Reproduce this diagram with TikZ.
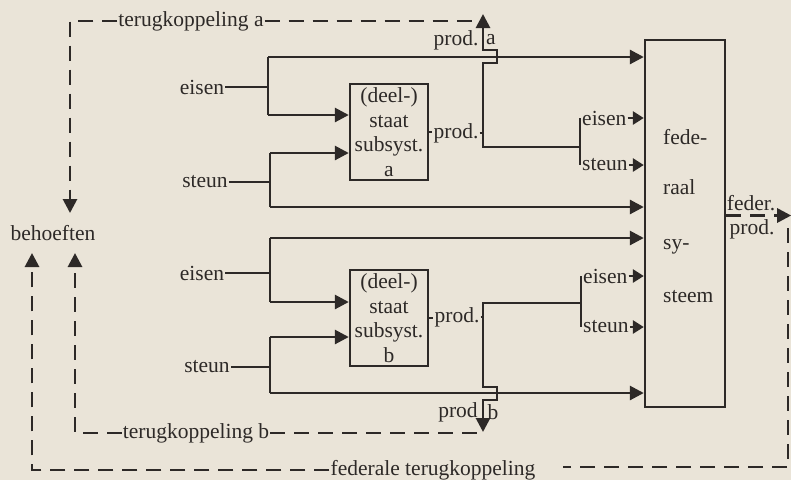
\documentclass[tikz,border=0pt]{standalone}
\usepackage{fontspec}
\setmainfont{Liberation Serif}
\usetikzlibrary{arrows.meta}
\definecolor{paper}{RGB}{234,228,216}
\definecolor{ink}{RGB}{45,41,39}
\begin{document}
\begin{tikzpicture}[x=1pt,y=-1pt,
  lbl/.style={inner sep=1pt, font=\fontsize{21.5}{25}\selectfont, text=ink},
  sbox/.style={draw=ink, line width=2.4pt, minimum width=78pt, minimum height=96pt, inner sep=1pt, align=center, font=\fontsize{21.5}{24.5}\selectfont, text=ink},
  ln/.style={draw=ink, line width=2.8pt},
  arr/.style={ln, -{Triangle[length=14pt,width=14pt]}},
  sarr/.style={ln, -{Triangle[length=11pt,width=13pt]}},
  dsh/.style={ln, dash pattern=on 15pt off 9pt},
  darr/.style={dsh, -{Triangle[length=14pt,width=14pt]}},
]
\fill[paper] (0,0) rectangle (791,480);
\path[use as bounding box] (0,0) rectangle (791,480);

% boxes
\node[sbox] (A) at (389,132) {(deel-)\\staat\\subsyst.\\a};
\node[sbox] (B) at (389,318) {(deel-)\\staat\\subsyst.\\b};
\node[draw=ink, line width=2.4pt, minimum width=80pt, minimum height=367pt, inner sep=0pt] (F) at (685,223.5) {};
\node[lbl, anchor=west] (f1) at (662,137) {fede-};
\node[lbl, anchor=west] (f2) at (662,187) {raal};
\node[lbl, anchor=west] (f3) at (662,247) {sy-};
\node[lbl, anchor=west] (f4) at (662,297) {steem};

% input labels
\node[lbl] (eA) at (202,87) {eisen};
\node[lbl] (sA) at (205,182) {steun};
\node[lbl] (eB) at (202,273) {eisen};
\node[lbl] (sB) at (207,367) {steun};

% junction coordinates
\coordinate (ja0) at (268,87);  \coordinate (ja1) at (268,57);  \coordinate (ja2) at (268,115);
\coordinate (sa0) at (270,182); \coordinate (sa1) at (270,153); \coordinate (sa2) at (270,207);
\coordinate (eb0) at (270,273); \coordinate (eb1) at (270,238); \coordinate (eb2) at (270,302);
\coordinate (sb0) at (270,367); \coordinate (sb1) at (270,337); \coordinate (sb2) at (270,393);
\coordinate (pa0) at (483,147); \coordinate (pa1) at (580,147); \coordinate (pa2) at (580,118); \coordinate (pa3) at (580,165);
\coordinate (pb0) at (483,303); \coordinate (pb1) at (581,303); \coordinate (pb2) at (581,276); \coordinate (pb3) at (581,327);

% subsystem a inputs
\draw[ln] (eA.east) -- (ja0);
\draw[ln] (ja1) -- (ja2);
\draw[arr] (ja1) -- (ja1 -| F.west);
\draw[arr] (ja2) -- (ja2 -| A.west);
\draw[ln] (sA.east) -- (sa0);
\draw[ln] (sa1) -- (sa2);
\draw[arr] (sa1) -- (sa1 -| A.west);
\draw[arr] (sa2) -- (sa2 -| F.west);

% subsystem b inputs
\draw[ln] (eB.east) -- (eb0);
\draw[ln] (eb1) -- (eb2);
\draw[arr] (eb1) -- (eb1 -| F.west);
\draw[arr] (eb2) -- (eb2 -| B.west);
\draw[ln] (sB.east) -- (sb0);
\draw[ln] (sb1) -- (sb2);
\draw[arr] (sb1) -- (sb1 -| B.west);
\draw[arr] (sb2) -- (sb2 -| F.west);

% product a
\node[lbl] (pA) at (456,133) {prod.};
\draw[ln] (A.east) -- (A.east -| pA.west);
\draw[ln] (pA.east) -- (pA.east -| pa0);
\draw[arr] (pa1) -- (pa0) -- (483,63) -- (497,63) -- (497,50) -- (483,50) -- (483,14);
\draw[ln] (pa2) -- (pa3);
\node[lbl, anchor=west] (ea2) at (581,118) {eisen};
\node[lbl, anchor=west] (sa3) at (581,165) {steun};
\draw[sarr] (ea2.east) -- (ea2.east -| F.west);
\draw[sarr] (sa3.east) -- (sa3.east -| F.west);
\node[lbl] (lpa) at (456,40) {prod.};
\node[lbl] (lpa2) at (491,40) {a};

% product b
\node[lbl] (pB) at (457,317) {prod.};
\draw[ln] (B.east) -- (B.east -| pB.west);
\draw[ln] (pB.east) -- (pB.east -| pb0);
\draw[arr] (pb1) -- (pb0) -- (483,387) -- (497,387) -- (497,400) -- (483,400) -- (483,432);
\draw[ln] (pb2) -- (pb3);
\node[lbl, anchor=west] (eb3) at (582,276) {eisen};
\node[lbl, anchor=west] (sb3) at (582,327) {steun};
\draw[sarr] (eb3.east) -- (eb3.east -| F.west);
\draw[sarr] (sb3.east) -- (sb3.east -| F.west);
\node[lbl] (lpb) at (458,412) {prod};
\node[lbl] (lpb2) at (493,412) {b};

% federal product
\node[lbl] (fd1) at (751,203) {feder.};
\node[lbl] (fd2) at (752,229) {prod.};
\draw[darr] ([yshift=8pt]F.east) -- ++(65,0);

% feedback loops
\node[lbl] (bh) at (53,233) {behoeften};
\coordinate (bhA) at (70,213);
\coordinate (bhB) at (75,253);
\coordinate (bhF) at (32,253);
\node[lbl] (tA) at (191,21) {terugkoppeling a};
\draw[darr] (tA.west) -| (bhA);
\draw[dsh] (tA.east) -- (474,21);
\node[lbl] (tB) at (196,433) {terugkoppeling b};
\draw[darr] (tB.west) -| (bhB);
\draw[dsh] (tB.east) -- (478,433);
\node[lbl] (fT) at (433,470) {federale terugkoppeling};
\draw[darr] (fT.west) -| (bhF);
\coordinate (fr) at (788,228);
\draw[dsh] (fr) -- (788,467) -- ([xshift=26pt]fT.east |- 0,467);
\end{tikzpicture}
\end{document}
